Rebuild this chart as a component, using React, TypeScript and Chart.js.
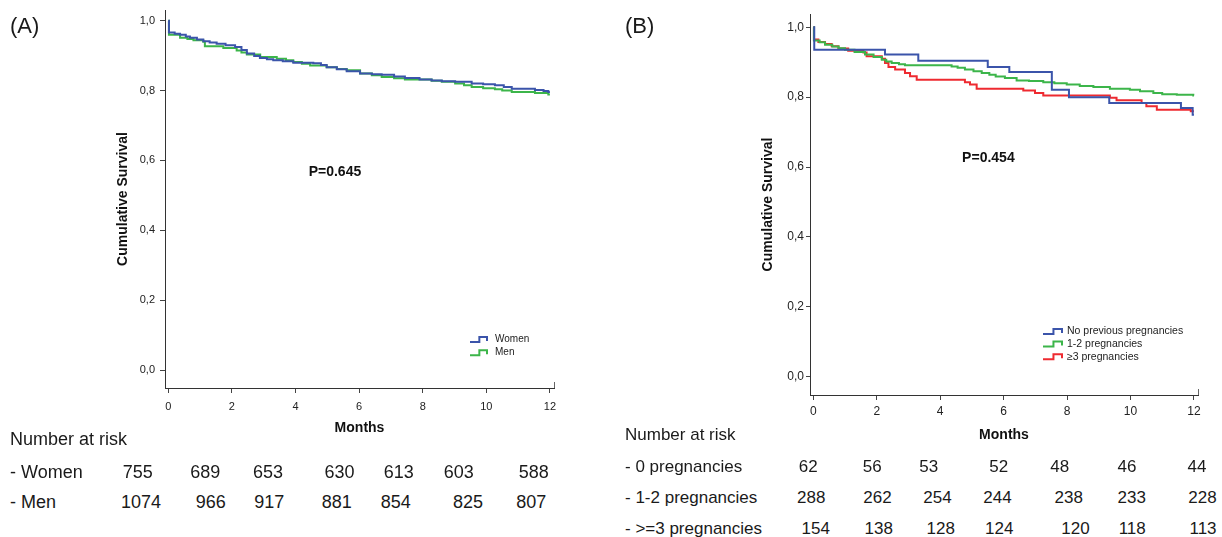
import React, { useEffect, useRef } from "react";
import { Chart, registerables } from "chart.js";

Chart.register(...registerables);

const FONT = '"Liberation Sans", Arial, Helvetica, sans-serif';

// ---------------- Data ----------------
const monthTicks = [0, 2, 4, 6, 8, 10, 12];
const survivalTicks = [0, 0.2, 0.4, 0.6, 0.8, 1.0];

// Panel A: Kaplan-Meier by sex
const womenMonths = [0, 0.02, 0.2, 0.37, 0.55, 0.68, 0.9, 1.1, 1.3, 1.52, 1.8, 2.1, 2.3, 2.47, 2.7, 2.88, 3.1, 3.3, 3.6, 3.93, 4.56, 4.8, 4.98, 5.3, 5.61, 6.03, 6.4, 6.71, 7.1, 7.44, 7.9, 8.28, 8.6, 9.02, 9.54, 9.9, 10.27, 10.55, 10.8, 11.53, 11.8, 11.95, 12];
const womenSurvival = [1.0, 0.966, 0.963, 0.96, 0.955, 0.951, 0.946, 0.941, 0.938, 0.934, 0.93, 0.925, 0.916, 0.906, 0.899, 0.893, 0.89, 0.887, 0.884, 0.88, 0.878, 0.873, 0.867, 0.861, 0.855, 0.849, 0.847, 0.845, 0.84, 0.836, 0.832, 0.829, 0.827, 0.825, 0.82, 0.818, 0.815, 0.81, 0.805, 0.802, 0.799, 0.796, 0.796];

const menMonths = [0, 0.02, 0.37, 0.6, 0.79, 1.1, 1.15, 1.73, 2.15, 2.3, 2.47, 2.89, 3.41, 3.7, 3.93, 4.2, 4.46, 4.98, 5.3, 5.61, 6.03, 6.4, 6.71, 7.1, 7.44, 8.28, 8.6, 9.02, 9.3, 9.54, 9.9, 10.27, 10.5, 10.8, 11.53, 11.95, 12];
const menSurvival = [1.0, 0.96, 0.951, 0.948, 0.944, 0.94, 0.927, 0.922, 0.915, 0.909, 0.903, 0.896, 0.891, 0.887, 0.882, 0.877, 0.872, 0.867, 0.862, 0.858, 0.849, 0.844, 0.839, 0.835, 0.832, 0.828, 0.825, 0.82, 0.815, 0.81, 0.807, 0.804, 0.8, 0.796, 0.793, 0.789, 0.789];

// Panel B: Kaplan-Meier by number of previous pregnancies
const noPregMonths = [0, 0.03, 2.26, 3.31, 5.5, 6.18, 7.52, 8.06, 9.33, 11.59, 11.96, 12];
const noPregSurvival = [1.0, 0.936, 0.922, 0.904, 0.886, 0.872, 0.821, 0.8, 0.783, 0.769, 0.75, 0.75];

const oneTwoMonths = [0, 0.02, 0.2, 0.37, 0.6, 0.8, 1.0, 1.3, 1.63, 1.9, 2.16, 2.3, 2.47, 2.7, 2.89, 4.36, 4.55, 4.78, 5.05, 5.31, 5.55, 5.75, 6.04, 6.41, 6.8, 7.25, 7.6, 7.99, 8.4, 8.83, 9.35, 9.98, 10.3, 10.72, 11.0, 11.46, 11.98, 12];
const oneTwoSurvival = [1.0, 0.962, 0.957, 0.95, 0.945, 0.94, 0.936, 0.929, 0.922, 0.915, 0.907, 0.902, 0.898, 0.894, 0.891, 0.888, 0.884, 0.879, 0.874, 0.869, 0.864, 0.859, 0.855, 0.848, 0.846, 0.843, 0.84, 0.836, 0.832, 0.829, 0.824, 0.821, 0.817, 0.812, 0.808, 0.807, 0.805, 0.805];

const threePlusMonths = [0, 0.02, 0.16, 0.37, 0.58, 0.79, 1.1, 1.58, 1.68, 2.16, 2.26, 2.37, 2.58, 2.89, 3.05, 3.26, 4.78, 4.94, 5.15, 6.62, 6.99, 7.25, 9.35, 9.56, 10.35, 10.5, 10.83, 11.9, 12];
const threePlusSurvival = [1.0, 0.965, 0.958, 0.952, 0.946, 0.939, 0.933, 0.928, 0.917, 0.91, 0.898, 0.886, 0.879, 0.869, 0.86, 0.85, 0.843, 0.836, 0.824, 0.819, 0.812, 0.805, 0.798, 0.791, 0.783, 0.774, 0.764, 0.76, 0.76];

const legendA = ["Women", "Men"];
const legendB = ["No previous pregnancies", "1-2 pregnancies", "≥3 pregnancies"];
const pValueA = "P=0.645";
const pValueB = "P=0.454";

const riskTitle = "Number at risk";
const riskLabelsA = ["- Women", "- Men"];
const riskWomen = [755, 689, 653, 630, 613, 603, 588];
const riskMen = [1074, 966, 917, 881, 854, 825, 807];
const riskLabelsB = ["- 0 pregnancies", "- 1-2 pregnancies", "- >=3 pregnancies"];
const riskNoPreg = [62, 56, 53, 52, 48, 46, 44];
const riskOneTwo = [288, 262, 254, 244, 238, 233, 228];
const riskThreePlus = [154, 138, 128, 124, 120, 118, 113];

// ---------------- Styles / layout ----------------
const BLUE = "#3b54aa";
const GREEN = "#3cb54a";
const RED = "#ee2a30";

const extrasPlugin = {
  id: "kmExtras",
  afterDraw(chart: any, _args: any, opts: any) {
    const { ctx, chartArea } = chart;
    const xs = chart.scales.x;
    const ys = chart.scales.y;
    ctx.save();
    // stub at right end of x-axis
    ctx.strokeStyle = "#666";
    ctx.lineWidth = 1;
    ctx.beginPath();
    ctx.moveTo(Math.round(chartArea.right) + 0.5, chartArea.bottom - 6);
    ctx.lineTo(Math.round(chartArea.right) + 0.5, chartArea.bottom);
    ctx.stroke();
    // p value
    ctx.font = `bold 14px ${FONT}`;
    ctx.fillStyle = "#111";
    ctx.textAlign = "center";
    ctx.textBaseline = "middle";
    ctx.fillText(opts.pText, xs.getPixelForValue(opts.pAt[0]), ys.getPixelForValue(opts.pAt[1]));
    // legend
    ctx.font = `${opts.legendFont}px ${FONT}`;
    ctx.textAlign = "left";
    opts.items.forEach((label: string, i: number) => {
      const ds = chart.data.datasets[i];
      const y = opts.legendY + i * opts.legendGap;
      const x = opts.legendX;
      const w = opts.symbolW;
      ctx.strokeStyle = ds.borderColor;
      ctx.lineWidth = 2;
      ctx.beginPath();
      ctx.moveTo(x, y + 2.5);
      ctx.lineTo(x + w * 0.55, y + 2.5);
      ctx.lineTo(x + w * 0.55, y - 2.5);
      ctx.lineTo(x + w, y - 2.5);
      ctx.lineTo(x + w, y + 1.5);
      ctx.stroke();
      ctx.fillStyle = "#222";
      ctx.fillText(label, opts.legendTextX, y);
    });
    ctx.restore();
  },
};

function buildConfig(p: any) {
  return {
    type: "line",
    data: {
      datasets: p.series.map((s: any) => ({
        label: s.label,
        data: s.months.map((m: number, i: number) => ({ x: m, y: s.surv[i] })),
        borderColor: s.color,
        backgroundColor: s.color,
        borderWidth: 2,
        stepped: true,
        pointRadius: 0,
        fill: false,
      })),
    },
    options: {
      responsive: false,
      animation: false,
      devicePixelRatio: 1,
      events: [],
      layout: { padding: { left: 0, top: p.top, right: p.right, bottom: 0 } },
      plugins: {
        legend: { display: false },
        tooltip: { enabled: false },
        kmExtras: p.extras,
      },
      scales: {
        x: {
          type: "linear",
          min: p.xMin,
          max: p.xMax,
          afterBuildTicks: (s: any) => {
            s.ticks = monthTicks.map((v) => ({ value: v }));
          },
          afterFit: (s: any) => {
            s.height = p.xAxisHeight;
            s.paddingLeft = 0;
            s.paddingRight = 0;
            s.paddingTop = 0;
            s.paddingBottom = 0;
          },
          ticks: {
            autoSkip: false,
            maxRotation: 0,
            padding: p.xTickPad,
            color: "#222",
            font: { family: FONT, size: p.tickFont },
            callback: (v: any) => String(v),
          },
          grid: { drawOnChartArea: false, drawTicks: true, tickLength: 5, color: "#444", lineWidth: 1 },
          border: { display: true, color: "#333", width: 1 },
          title: {
            display: true,
            text: "Months",
            color: "#111",
            font: { family: FONT, size: 14, weight: "bold" },
            padding: { top: 0, bottom: p.xTitlePad },
          },
        },
        y: {
          type: "linear",
          min: p.yMin,
          max: p.yMax,
          afterBuildTicks: (s: any) => {
            s.ticks = survivalTicks.map((v) => ({ value: v }));
          },
          afterFit: (s: any) => {
            s.width = p.yAxisWidth;
            s.paddingLeft = 0;
            s.paddingRight = 0;
            s.paddingTop = 0;
            s.paddingBottom = 0;
          },
          ticks: {
            autoSkip: false,
            padding: p.yTickPad,
            color: "#222",
            font: { family: FONT, size: p.tickFont },
            callback: (v: any) => Number(v).toFixed(1).replace(".", ","),
          },
          grid: { drawOnChartArea: false, drawTicks: true, tickLength: p.yTickLen, color: "#444", lineWidth: 1 },
          border: { display: true, color: "#333", width: 1 },
          title: {
            display: true,
            text: "Cumulative Survival",
            color: "#111",
            font: { family: FONT, size: 14, weight: "bold" },
            padding: { top: p.yTitlePad, bottom: 0 },
          },
        },
      },
    },
    plugins: [extrasPlugin],
  };
}

const panelA = {
  series: [
    { label: legendA[0], months: womenMonths, surv: womenSurvival, color: BLUE },
    { label: legendA[1], months: menMonths, surv: menSurvival, color: GREEN },
  ],
  top: 10,
  right: 46,
  xMin: -0.104,
  xMax: 12.129,
  yMin: -0.0515,
  yMax: 1.0307,
  xAxisHeight: 62,
  yAxisWidth: 165,
  xTickPad: 7,
  yTickPad: 5,
  yTickLen: 5,
  tickFont: 11,
  xTitlePad: 13.6,
  yTitlePad: 114.6,
  extras: {
    pText: pValueA,
    pAt: [5.24, 0.567],
    items: legendA,
    legendFont: 10,
    legendX: 470,
    legendTextX: 495,
    symbolW: 17,
    legendY: 339.5,
    legendGap: 13.2,
  },
};

const panelB = {
  series: [
    { label: legendB[0], months: noPregMonths, surv: noPregSurvival, color: BLUE },
    { label: legendB[1], months: oneTwoMonths, surv: oneTwoSurvival, color: GREEN },
    { label: legendB[2], months: threePlusMonths, surv: threePlusSurvival, color: RED },
  ],
  top: 14,
  right: 24,
  xMin: -0.104,
  xMax: 12.128,
  yMin: -0.0524,
  yMax: 1.038,
  xAxisHeight: 55,
  yAxisWidth: 200,
  xTickPad: 4.5,
  yTickPad: 2,
  yTickLen: 4,
  tickFont: 12,
  xTitlePad: 6.6,
  yTitlePad: 149.6,
  extras: {
    pText: pValueB,
    pAt: [5.52, 0.626],
    items: legendB,
    legendFont: 10.5,
    legendX: 433,
    legendTextX: 457,
    symbolW: 19,
    legendY: 331.5,
    legendGap: 12.6,
  },
};

// at-risk table layout (pixel column centres)
const tableA = {
  labelX: 10,
  titleY: 438.5,
  rowY: [471.7, 502],
  cols: [
    [137.7, 205.3, 268, 339.5, 398.7, 458.7, 533.8],
    [141, 210.8, 269.2, 336.7, 395.8, 468, 531.3],
  ],
  size: 18,
};
const tableB = {
  labelX: 625,
  titleY: 434,
  rowY: [465.8, 496.7, 528.3],
  cols: [
    [808.3, 872.2, 928.8, 998.8, 1059.7, 1127, 1197],
    [811.3, 877.5, 937.5, 997.5, 1068.7, 1131.7, 1202.5],
    [815.8, 878.8, 940.8, 999.2, 1075.5, 1132.2, 1203],
  ],
  size: 17,
};

function Txt(props: { x: number; y: number; size: number; center?: boolean; children: any }) {
  return (
    <div
      style={{
        position: "absolute",
        left: props.x,
        top: props.y,
        transform: props.center ? "translate(-50%, -50%)" : "translate(0, -50%)",
        fontSize: props.size,
        lineHeight: 1,
        whiteSpace: "nowrap",
        color: "#1a1a1a",
        fontFamily: FONT,
      }}
    >
      {props.children}
    </div>
  );
}

function RiskTable(props: { layout: any; labels: string[]; rows: number[][] }) {
  const L = props.layout;
  return (
    <>
      <Txt x={L.labelX} y={L.titleY} size={L.size}>
        {riskTitle}
      </Txt>
      {props.labels.map((lab, r) => (
        <React.Fragment key={lab}>
          <Txt x={L.labelX} y={L.rowY[r]} size={L.size}>
            {lab}
          </Txt>
          {props.rows[r].map((n, c) => (
            <Txt key={c} x={L.cols[r][c]} y={L.rowY[r]} size={L.size} center>
              {n}
            </Txt>
          ))}
        </React.Fragment>
      ))}
    </>
  );
}

export default function App() {
  const refA = useRef<HTMLCanvasElement | null>(null);
  const refB = useRef<HTMLCanvasElement | null>(null);

  useEffect(() => {
    const a = new Chart(refA.current as any, buildConfig(panelA) as any);
    const b = new Chart(refB.current as any, buildConfig(panelB) as any);
    return () => {
      a.destroy();
      b.destroy();
    };
  }, []);

  return (
    <div
      style={{
        position: "absolute",
        left: 0,
        top: 0,
        width: 1222,
        height: 537,
        background: "#fff",
        overflow: "hidden",
        fontFamily: FONT,
      }}
    >
      <canvas ref={refA} width={600} height={450} style={{ position: "absolute", left: 0, top: 0 }} />
      <canvas ref={refB} width={612} height={450} style={{ position: "absolute", left: 610, top: 0 }} />
      <Txt x={10} y={26} size={22}>
        (A)
      </Txt>
      <Txt x={625} y={26} size={22}>
        (B)
      </Txt>
      <RiskTable layout={tableA} labels={riskLabelsA} rows={[riskWomen, riskMen]} />
      <RiskTable layout={tableB} labels={riskLabelsB} rows={[riskNoPreg, riskOneTwo, riskThreePlus]} />
    </div>
  );
}
